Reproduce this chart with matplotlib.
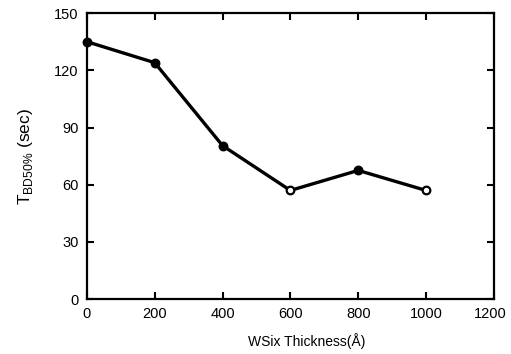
import matplotlib
matplotlib.use("Agg")
import matplotlib.pyplot as plt
import matplotlib.transforms as mtransforms

plt.rcParams['font.family'] = ['Liberation Sans', 'DejaVu Sans']
plt.rcParams['mathtext.fontset'] = 'custom'
plt.rcParams['mathtext.rm'] = 'Liberation Sans'

thickness = [0, 200, 400, 600, 800, 1000]
tbd50 = [135, 124, 80.5, 57, 67.5, 57]
hollow = [False, False, False, True, False, True]
xticks = [0, 200, 400, 600, 800, 1000, 1200]
yticks = [0, 30, 60, 90, 120, 150]

fig = plt.figure(figsize=(5.11, 3.54), dpi=100)
ax = fig.add_axes([0.170, 0.155, 0.7965, 0.808])

ax.plot(thickness, tbd50, color='black', lw=2.4, zorder=2)
for x, y, h in zip(thickness, tbd50, hollow):
    ax.plot([x], [y], marker='o', ms=5.5, mec='black', mew=1.6,
            mfc='white' if h else 'black', zorder=3, clip_on=False)

ax.set_xlim(0, 1200)
ax.set_ylim(0, 150)
ax.set_xticks(xticks)
ax.set_yticks(yticks)
ax.tick_params(direction='in', length=5, width=1.5, labelsize=10.5,
               right=True, top=True, pad=6)
for s in ax.spines.values():
    s.set_linewidth(1.6)

# nudge the last x tick label slightly left so it stays inside the figure
last = ax.get_xticklabels()[-1]
last.set_transform(last.get_transform() +
                   mtransforms.ScaledTranslation(-4/100, 0, fig.dpi_scale_trans))

ax.set_xlabel('WSix Thickness(Å)', fontsize=10, labelpad=8)
ax.xaxis.set_label_coords(0.54, -0.12)
ax.set_ylabel(r'T$_{\mathrm{BD50\%}}$ (sec)', fontsize=12.5, labelpad=14)

fig.savefig('out.png', dpi=100)
